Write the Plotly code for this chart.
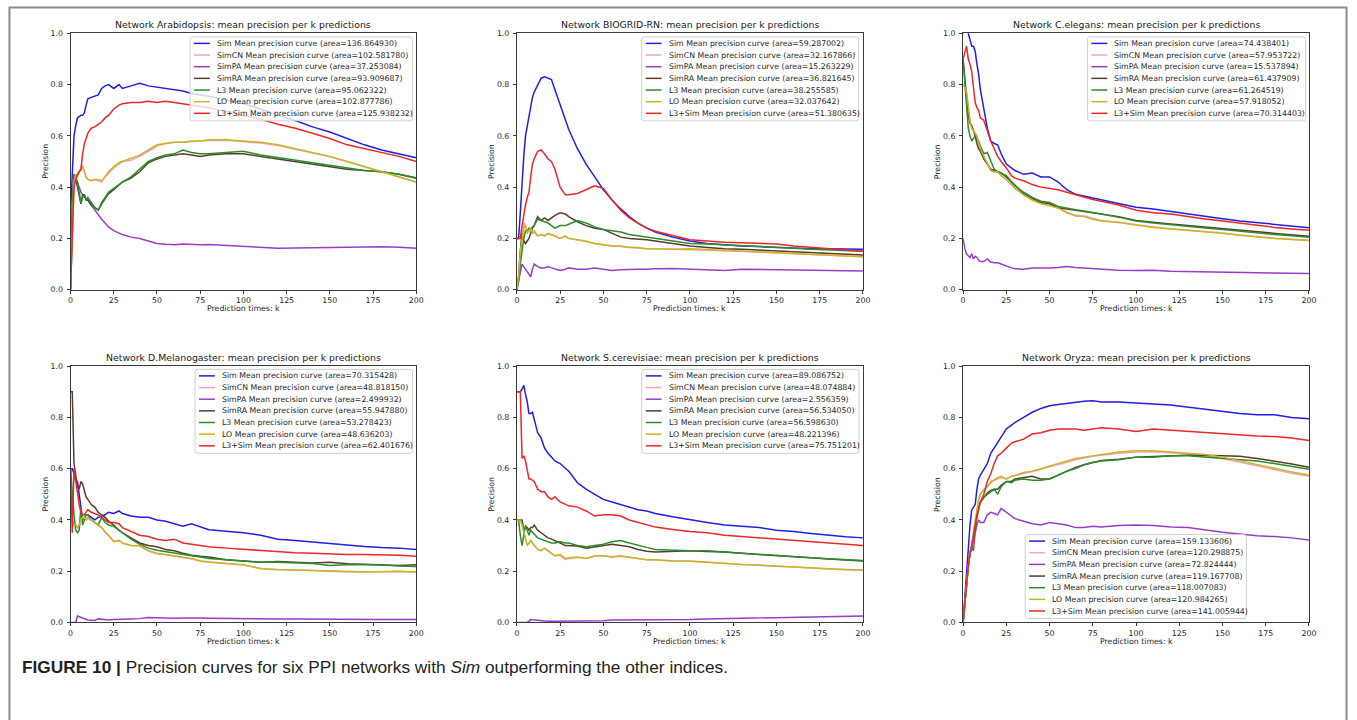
import plotly.graph_objects as go

W, H = 1357, 720

# ---------------- data ----------------
K = [0, 1, 2, 3, 4, 5, 6, 7, 8, 9, 10, 12, 14, 16, 18, 20, 22, 25, 28, 30,
     35, 40, 45, 50, 55, 60, 65, 70, 75, 80, 90, 100, 110, 120, 130, 140,
     150, 160, 170, 180, 190, 200]

NETWORKS = ["Arabidopsis", "BIOGRID-RN", "C.elegans", "D.Melanogaster", "S.cerevisiae", "Oryza"]
METHODS = ["Sim", "SimCN", "SimPA", "SimRA", "L3", "LO", "L3+Sim"]
X_TICKS = [0, 25, 50, 75, 100, 125, 150, 175, 200]
Y_TICKS = [0.0, 0.2, 0.4, 0.6, 0.8, 1.0]

AREA_ARA = ["136.864930", "102.581780", "37.253084", "93.909687", "95.062322", "102.877786", "125.938232"]
AREA_BIO = ["59.287002", "32.167866", "15.263229", "36.821645", "38.255585", "32.037642", "51.380635"]
AREA_CEL = ["74.438401", "57.953722", "15.537894", "61.437909", "61.264519", "57.918052", "70.314403"]
AREA_DME = ["70.315428", "48.818150", "2.499932", "55.947880", "53.278423", "48.636203", "62.401676"]
AREA_SCE = ["89.086752", "48.074884", "2.556359", "56.534050", "56.598630", "48.221396", "75.751201"]
AREA_ORY = ["159.133606", "120.298875", "72.824444", "119.167708", "118.007083", "120.984265", "141.005944"]

# Arabidopsis
ARA_SIM = [0.30,0.45,0.60,0.64,0.67,0.675,0.68,0.68,0.69,0.72,0.745, 0.75,0.755,0.76,0.785,0.795,0.80, 0.785,0.80,0.785, 0.795,0.805,0.795,0.79,0.785,0.78,0.775,0.765,0.76,0.755, 0.74,0.725,0.705,0.68,0.66,0.635,0.615,0.59,0.565,0.545,0.53,0.515]
ARA_SIMCN = [0.0,0.25,0.42,0.45,0.44,0.46,0.465,0.48,0.455,0.44,0.43, 0.425,0.43,0.425,0.42,0.44,0.455, 0.475,0.49,0.50, 0.505,0.52,0.54,0.56,0.57,0.575,0.575,0.578,0.58,0.582, 0.583,0.578,0.572,0.562,0.548,0.533,0.518,0.50,0.48,0.46,0.44,0.42]
ARA_SIMPA = [0.0,0.30,0.45,0.43,0.42,0.40,0.38,0.37,0.365,0.355,0.35, 0.33,0.31,0.29,0.275,0.26,0.245, 0.23,0.22,0.215, 0.205,0.20,0.19,0.18,0.177,0.175,0.178,0.176,0.175,0.176, 0.173,0.17,0.165,0.162,0.163,0.164,0.165,0.164,0.165,0.167,0.166,0.162]
ARA_SIMRA = [0.0,0.30,0.44,0.43,0.40,0.36,0.335,0.37,0.37,0.35,0.35, 0.33,0.32,0.31,0.335,0.355,0.375, 0.39,0.41,0.42, 0.435,0.46,0.495,0.51,0.52,0.525,0.53,0.525,0.52,0.525, 0.53,0.53,0.52,0.51,0.50,0.49,0.48,0.47,0.465,0.46,0.45,0.435]
ARA_L3 = [0.0,0.30,0.45,0.44,0.42,0.38,0.34,0.36,0.37,0.35,0.36, 0.34,0.32,0.31,0.34,0.36,0.38, 0.395,0.41,0.42, 0.44,0.47,0.50,0.515,0.525,0.53,0.545,0.535,0.53,0.53, 0.535,0.54,0.525,0.515,0.505,0.495,0.485,0.475,0.465,0.46,0.45,0.437]
ARA_LO = [0.0,0.25,0.42,0.45,0.44,0.46,0.47,0.485,0.46,0.44,0.43, 0.425,0.43,0.43,0.425,0.44,0.46, 0.48,0.495,0.50, 0.51,0.525,0.545,0.565,0.57,0.575,0.575,0.58,0.58,0.585, 0.585,0.58,0.575,0.565,0.55,0.535,0.52,0.50,0.48,0.46,0.44,0.42]
ARA_L3SIM = [0.0,0.25,0.40,0.43,0.45,0.46,0.47,0.53,0.57,0.59,0.61, 0.63,0.635,0.645,0.655,0.67,0.68, 0.705,0.72,0.725, 0.73,0.73,0.735,0.73,0.735,0.73,0.725,0.72,0.715,0.71, 0.695,0.68,0.665,0.645,0.63,0.61,0.59,0.565,0.55,0.535,0.52,0.50]

# BIOGRID-RN
BIO_SIM = [0.2,0.2,0.3,0.42,0.52,0.6,0.64,0.68,0.72,0.75,0.77, 0.80,0.825,0.83,0.825,0.82,0.78, 0.72,0.66,0.625, 0.55,0.49,0.44,0.39,0.35,0.315,0.285,0.26,0.24,0.225, 0.205,0.19,0.18,0.175,0.17,0.168,0.165,0.163,0.16,0.16,0.158,0.158]
BIO_SIMCN = [0.0,0.05,0.15,0.20,0.26,0.25,0.22,0.23,0.24,0.22,0.225, 0.21,0.215,0.21,0.218,0.213,0.21, 0.20,0.208,0.20, 0.195,0.188,0.18,0.175,0.17,0.168,0.165,0.163,0.16,0.16, 0.158,0.158,0.156,0.152,0.15,0.147,0.144,0.14,0.137,0.134,0.131,0.128]
BIO_SIMPA = [0.0,0.03,0.07,0.10,0.09,0.08,0.07,0.06,0.05,0.08,0.10, 0.09,0.085,0.085,0.09,0.085,0.08, 0.075,0.08,0.085, 0.08,0.08,0.085,0.08,0.075,0.078,0.08,0.08,0.08,0.082, 0.083,0.08,0.078,0.075,0.08,0.079,0.078,0.078,0.077,0.077,0.075,0.073]
BIO_SIMRA = [0.0,0.05,0.15,0.22,0.19,0.18,0.19,0.20,0.22,0.24,0.25, 0.285,0.27,0.28,0.27,0.28,0.29, 0.30,0.295,0.285, 0.265,0.25,0.24,0.235,0.22,0.205,0.20,0.198,0.195,0.19, 0.18,0.17,0.165,0.16,0.158,0.155,0.152,0.148,0.145,0.142,0.138,0.135]
BIO_L3 = [0.0,0.03,0.10,0.16,0.20,0.23,0.23,0.24,0.235,0.245,0.25, 0.275,0.27,0.265,0.26,0.25,0.24, 0.25,0.25,0.255, 0.27,0.26,0.245,0.235,0.23,0.225,0.215,0.21,0.205,0.20, 0.19,0.18,0.178,0.175,0.172,0.17,0.165,0.162,0.158,0.155,0.152,0.15]
BIO_LO = [0.0,0.05,0.15,0.20,0.24,0.25,0.22,0.23,0.24,0.22,0.23, 0.21,0.215,0.21,0.22,0.215,0.21, 0.20,0.21,0.20, 0.195,0.19,0.18,0.175,0.17,0.17,0.165,0.165,0.16,0.16, 0.158,0.16,0.157,0.153,0.15,0.148,0.145,0.14,0.138,0.135,0.132,0.128]
BIO_L3SIM = [0.2,0.2,0.2,0.25,0.30,0.33,0.36,0.38,0.44,0.49,0.51, 0.54,0.545,0.53,0.51,0.50,0.47, 0.40,0.37,0.37, 0.375,0.39,0.405,0.395,0.35,0.31,0.28,0.26,0.24,0.228, 0.21,0.195,0.19,0.185,0.183,0.18,0.178,0.17,0.165,0.16,0.155,0.15]

# C.elegans
CEL_SIM = [1.0,1.02,1.03,1.0,0.97,0.95,0.95,0.93,0.88,0.84,0.78, 0.70,0.63,0.58,0.57,0.565,0.53, 0.49,0.475,0.465, 0.45,0.455,0.44,0.44,0.42,0.39,0.372,0.365,0.357,0.35, 0.338,0.322,0.315,0.305,0.295,0.286,0.277,0.268,0.262,0.255,0.248,0.242]
CEL_SIMCN = [0.80,0.79,0.77,0.70,0.66,0.63,0.62,0.61,0.60,0.57,0.55, 0.52,0.49,0.465,0.46,0.458,0.445, 0.43,0.41,0.395, 0.37,0.35,0.337,0.33,0.32,0.302,0.29,0.287,0.277,0.27, 0.263,0.253,0.245,0.238,0.233,0.227,0.221,0.213,0.206,0.201,0.197,0.193]
CEL_SIMPA = [0.20,0.16,0.14,0.13,0.125,0.14,0.12,0.13,0.125,0.115,0.11, 0.11,0.12,0.108,0.105,0.105,0.10, 0.09,0.085,0.082, 0.08,0.085,0.084,0.085,0.087,0.09,0.087,0.085,0.082,0.08, 0.076,0.075,0.076,0.072,0.071,0.07,0.07,0.068,0.066,0.065,0.064,0.063]
CEL_SIMRA = [0.90,0.82,0.74,0.68,0.65,0.64,0.62,0.60,0.57,0.55,0.54, 0.51,0.49,0.47,0.465,0.46,0.455, 0.44,0.42,0.405, 0.375,0.355,0.34,0.335,0.32,0.315,0.31,0.305,0.30,0.295, 0.285,0.27,0.262,0.256,0.25,0.244,0.238,0.232,0.226,0.219,0.214,0.208]
CEL_L3 = [0.90,0.80,0.70,0.63,0.60,0.58,0.59,0.60,0.59,0.58,0.56, 0.53,0.535,0.50,0.47,0.46,0.455, 0.445,0.42,0.405, 0.38,0.36,0.345,0.34,0.325,0.317,0.312,0.307,0.30,0.295, 0.283,0.268,0.26,0.253,0.247,0.241,0.235,0.228,0.221,0.215,0.21,0.205]
CEL_LO = [0.80,0.79,0.77,0.70,0.66,0.63,0.62,0.61,0.60,0.57,0.55, 0.52,0.49,0.465,0.46,0.46,0.445, 0.43,0.41,0.395, 0.37,0.35,0.335,0.328,0.318,0.30,0.287,0.285,0.275,0.268, 0.262,0.252,0.243,0.237,0.232,0.226,0.22,0.212,0.205,0.20,0.196,0.192]
CEL_L3SIM = [0.90,0.93,0.95,0.90,0.88,0.85,0.80,0.73,0.71,0.70,0.67, 0.66,0.62,0.58,0.55,0.52,0.50, 0.475,0.445,0.435, 0.425,0.41,0.40,0.395,0.39,0.38,0.37,0.36,0.352,0.345, 0.33,0.31,0.30,0.295,0.285,0.276,0.268,0.259,0.25,0.243,0.237,0.232]

# D.Melanogaster
DME_SIM = [0.6,0.6,0.58,0.55,0.55,0.5,0.45,0.40,0.41,0.42,0.42, 0.41,0.40,0.41,0.415,0.42,0.43, 0.425,0.435,0.425, 0.415,0.41,0.41,0.40,0.395,0.385,0.375,0.385,0.372,0.362, 0.356,0.35,0.34,0.325,0.32,0.314,0.306,0.30,0.296,0.292,0.29,0.285]
DME_SIMCN = [0.4,0.4,0.38,0.38,0.37,0.38,0.40,0.405,0.41,0.40,0.405, 0.40,0.39,0.38,0.37,0.352,0.34, 0.318,0.32,0.31, 0.30,0.298,0.28,0.27,0.265,0.26,0.254,0.248,0.24,0.236, 0.23,0.224,0.211,0.207,0.205,0.203,0.201,0.199,0.198,0.198,0.199,0.197]
DME_SIMPA = [0.0,0.0,0.0,0.0,0.025,0.022,0.02,0.016,0.014,0.012,0.01, 0.009,0.008,0.014,0.012,0.01,0.01, 0.012,0.012,0.013, 0.014,0.015,0.019,0.018,0.016,0.016,0.017,0.018,0.017,0.016, 0.015,0.014,0.013,0.014,0.014,0.013,0.013,0.013,0.012,0.012,0.012,0.012]
DME_SIMRA = [0.9,0.9,0.62,0.57,0.53,0.52,0.55,0.54,0.51,0.49,0.48, 0.46,0.45,0.43,0.42,0.41,0.395, 0.38,0.36,0.35, 0.33,0.31,0.30,0.295,0.285,0.28,0.27,0.262,0.258,0.255, 0.245,0.24,0.235,0.238,0.235,0.232,0.235,0.229,0.227,0.225,0.222,0.225]
DME_L3 = [0.6,0.5,0.42,0.36,0.35,0.36,0.45,0.38,0.40,0.42,0.42, 0.40,0.39,0.38,0.41,0.39,0.38, 0.375,0.36,0.35, 0.325,0.305,0.29,0.282,0.276,0.27,0.265,0.26,0.255,0.25, 0.245,0.24,0.236,0.235,0.232,0.23,0.222,0.225,0.225,0.224,0.22,0.218]
DME_LO = [0.4,0.4,0.38,0.38,0.37,0.38,0.40,0.41,0.41,0.40,0.41, 0.40,0.39,0.38,0.37,0.355,0.34, 0.315,0.32,0.31, 0.30,0.30,0.28,0.268,0.265,0.26,0.255,0.25,0.24,0.235, 0.23,0.225,0.21,0.206,0.205,0.202,0.20,0.198,0.197,0.198,0.20,0.197]
DME_L3SIM = [0.6,0.35,0.6,0.55,0.50,0.46,0.43,0.42,0.42,0.43,0.44, 0.43,0.425,0.42,0.41,0.40,0.39, 0.39,0.385,0.37, 0.355,0.34,0.335,0.325,0.32,0.325,0.31,0.305,0.30,0.295, 0.29,0.285,0.28,0.275,0.272,0.27,0.267,0.265,0.265,0.264,0.262,0.258]

# S.cerevisiae
SCE_SIM = [0.9,0.9,0.9,0.91,0.925,0.89,0.86,0.815,0.815,0.82,0.79, 0.74,0.72,0.68,0.66,0.645,0.63, 0.62,0.60,0.59, 0.545,0.52,0.50,0.48,0.47,0.46,0.448,0.44,0.435,0.425, 0.412,0.40,0.39,0.38,0.375,0.37,0.36,0.355,0.347,0.34,0.334,0.33]
SCE_SIMCN = [0.4,0.4,0.4,0.38,0.35,0.33,0.30,0.31,0.32,0.31,0.30, 0.285,0.28,0.29,0.278,0.268,0.26, 0.262,0.245,0.25, 0.253,0.25,0.258,0.26,0.255,0.258,0.254,0.25,0.245,0.244, 0.24,0.239,0.234,0.229,0.226,0.223,0.219,0.215,0.212,0.209,0.206,0.204]
SCE_SIMPA = [0.0,0.0,0.0,0.0,0.0,0.0,0.0,0.005,0.012,0.011,0.01, 0.008,0.007,0.006,0.005,0.005,0.005, 0.006,0.006,0.006, 0.006,0.006,0.006,0.007,0.01,0.01,0.01,0.01,0.011,0.012, 0.012,0.012,0.014,0.015,0.017,0.018,0.02,0.021,0.022,0.023,0.024,0.025]
SCE_SIMRA = [0.4,0.4,0.4,0.4,0.36,0.37,0.37,0.36,0.37,0.37,0.38, 0.36,0.35,0.34,0.33,0.325,0.32, 0.31,0.30,0.30, 0.298,0.29,0.295,0.30,0.305,0.30,0.295,0.285,0.278,0.275, 0.277,0.28,0.277,0.275,0.27,0.265,0.26,0.256,0.252,0.248,0.244,0.24]
SCE_L3 = [0.4,0.4,0.34,0.30,0.34,0.38,0.36,0.34,0.36,0.35,0.345, 0.33,0.325,0.32,0.315,0.31,0.31, 0.315,0.31,0.31, 0.30,0.295,0.30,0.305,0.315,0.32,0.31,0.30,0.293,0.285, 0.282,0.28,0.28,0.276,0.27,0.265,0.26,0.257,0.252,0.249,0.245,0.242]
SCE_LO = [0.4,0.4,0.4,0.38,0.35,0.33,0.30,0.31,0.32,0.31,0.30, 0.285,0.28,0.29,0.28,0.27,0.26, 0.265,0.25,0.252, 0.255,0.25,0.26,0.26,0.255,0.26,0.255,0.25,0.245,0.245, 0.24,0.24,0.235,0.23,0.226,0.224,0.22,0.216,0.212,0.21,0.207,0.205]
SCE_L3SIM = [0.9,0.9,0.9,0.64,0.65,0.63,0.60,0.56,0.56,0.555,0.55, 0.52,0.51,0.51,0.49,0.48,0.49, 0.47,0.46,0.455, 0.45,0.435,0.415,0.42,0.42,0.415,0.40,0.39,0.38,0.372, 0.363,0.355,0.35,0.34,0.335,0.33,0.325,0.32,0.315,0.31,0.305,0.30]

# Oryza
ORY_SIM = [0.0,0.1,0.2,0.3,0.38,0.44,0.45,0.46,0.52,0.56,0.575, 0.60,0.62,0.66,0.68,0.70,0.725, 0.755,0.77,0.78, 0.80,0.82,0.835,0.845,0.85,0.855,0.86,0.863,0.865,0.86, 0.86,0.855,0.852,0.848,0.84,0.833,0.825,0.815,0.81,0.81,0.80,0.795]
ORY_SIMCN = [0.0,0.08,0.15,0.22,0.27,0.30,0.35,0.40,0.45,0.48,0.50, 0.515,0.53,0.545,0.555,0.56,0.565, 0.56,0.57,0.572, 0.58,0.588,0.598,0.607,0.615,0.625,0.635,0.642,0.648,0.652, 0.66,0.665,0.666,0.662,0.657,0.65,0.64,0.625,0.61,0.595,0.582,0.57]
ORY_SIMPA = [0.0,0.08,0.15,0.22,0.27,0.29,0.28,0.35,0.38,0.40,0.39, 0.39,0.42,0.43,0.425,0.42,0.445, 0.43,0.415,0.405, 0.395,0.385,0.38,0.39,0.385,0.38,0.37,0.37,0.375,0.372, 0.378,0.38,0.378,0.372,0.37,0.36,0.352,0.345,0.338,0.335,0.33,0.322]
ORY_SIMRA = [0.0,0.08,0.15,0.22,0.27,0.29,0.33,0.37,0.42,0.45,0.47, 0.49,0.505,0.515,0.52,0.52,0.535, 0.55,0.55,0.56, 0.565,0.57,0.56,0.56,0.575,0.59,0.605,0.615,0.625,0.632, 0.637,0.645,0.647,0.65,0.652,0.652,0.65,0.648,0.64,0.63,0.618,0.605]
ORY_L3 = [0.0,0.08,0.15,0.22,0.27,0.29,0.33,0.37,0.42,0.45,0.47, 0.49,0.50,0.51,0.52,0.50,0.53, 0.55,0.545,0.555, 0.56,0.555,0.555,0.56,0.575,0.59,0.60,0.615,0.625,0.63, 0.635,0.645,0.645,0.65,0.65,0.645,0.64,0.635,0.63,0.62,0.61,0.598]
ORY_LO = [0.0,0.08,0.15,0.22,0.27,0.30,0.35,0.40,0.45,0.48,0.50, 0.52,0.53,0.55,0.555,0.565,0.57, 0.56,0.57,0.575, 0.585,0.59,0.60,0.61,0.62,0.63,0.64,0.645,0.65,0.655, 0.665,0.67,0.67,0.665,0.66,0.655,0.645,0.63,0.615,0.60,0.587,0.575]
ORY_L3SIM = [0.0,0.08,0.15,0.22,0.27,0.30,0.34,0.38,0.42,0.44,0.47, 0.50,0.55,0.58,0.62,0.65,0.66, 0.68,0.70,0.705, 0.715,0.735,0.74,0.75,0.755,0.755,0.755,0.75,0.755,0.76, 0.755,0.745,0.755,0.75,0.745,0.74,0.735,0.73,0.727,0.725,0.72,0.71]

PANEL_SERIES = [
    [ARA_SIM, ARA_SIMCN, ARA_SIMPA, ARA_SIMRA, ARA_L3, ARA_LO, ARA_L3SIM],
    [BIO_SIM, BIO_SIMCN, BIO_SIMPA, BIO_SIMRA, BIO_L3, BIO_LO, BIO_L3SIM],
    [CEL_SIM, CEL_SIMCN, CEL_SIMPA, CEL_SIMRA, CEL_L3, CEL_LO, CEL_L3SIM],
    [DME_SIM, DME_SIMCN, DME_SIMPA, DME_SIMRA, DME_L3, DME_LO, DME_L3SIM],
    [SCE_SIM, SCE_SIMCN, SCE_SIMPA, SCE_SIMRA, SCE_L3, SCE_LO, SCE_L3SIM],
    [ORY_SIM, ORY_SIMCN, ORY_SIMPA, ORY_SIMRA, ORY_L3, ORY_LO, ORY_L3SIM],
]
PANEL_AREAS = [AREA_ARA, AREA_BIO, AREA_CEL, AREA_DME, AREA_SCE, AREA_ORY]

# ---------------- style / layout ----------------
COLORS = ["#1f1fe8", "#f4a3c0", "#9a3cc8", "#5a3b2c", "#2a8f2a", "#c9b526", "#ee2626"]
FONT = "DejaVu Sans"
COL_X = [(69.0, 417.0), (518.3, 866.7), (967.5, 1315.7)]
ROW_Y = [(29.7, 289.3), (366.7, 626.3)]
# legend boxes: left, top, right (px)
LEG_BOX = [(189.3, 33.3, 413.3), (644.0, 33.3, 862.3), (1092.7, 33.3, 1312.3),
           (194.3, 370.0, 413.3), (644.0, 370.0, 862.7), (1030.0, 537.3, 1252.7)]
LEG_H = 85.0
ROW_STEP = 11.8


def fx(p):
    return p / W


def fy(p):
    return 1 - p / H


fig = go.Figure()
layout = dict(
    width=W, height=H, autosize=False,
    margin=dict(l=0, r=0, t=0, b=0),
    paper_bgcolor="white", plot_bgcolor="white",
    showlegend=False,
)
shapes = []
annotations = []

for i, name in enumerate(NETWORKS):
    r, c = divmod(i, 3)
    x0, x1 = COL_X[c]
    y0, y1 = ROW_Y[r]
    sfx = "" if i == 0 else str(i + 1)
    xa, ya = "x" + sfx, "y" + sfx
    axis_common = dict(
        showline=True, linecolor="#3a3a3a", linewidth=1, mirror=True,
        ticks="outside", ticklen=3, tickwidth=1, tickcolor="#3a3a3a",
        showgrid=False, zeroline=False,
        tickfont=dict(family=FONT, size=7.8, color="#262626"),
    )
    layout["xaxis" + sfx] = dict(domain=[fx(x0), fx(x1)], range=[0, 200], tickvals=X_TICKS,
                                 anchor=ya, **axis_common)
    layout["yaxis" + sfx] = dict(domain=[fy(y1), fy(y0)], range=[0, 1], tickvals=Y_TICKS,
                                 tickformat=".1f", anchor=xa, ticklabelstandoff=2, **axis_common)

    for j, m in enumerate(METHODS):
        fig.add_trace(go.Scatter(
            x=K, y=PANEL_SERIES[i][j], mode="lines", xaxis=xa, yaxis=ya,
            line=dict(color=COLORS[j], width=1.5), name=m, hoverinfo="skip",
        ))

    cx = (x0 + x1) / 2
    # subplot title
    annotations.append(dict(text=f"Network {name}: mean precision per k predictions",
                            x=fx(cx), y=fy(y0 - 8.5), xref="paper", yref="paper",
                            xanchor="center", yanchor="middle", showarrow=False,
                            font=dict(family=FONT, size=9.35, color="#1a1a1a")))
    # axis titles
    annotations.append(dict(text="Prediction times: k", x=fx(cx), y=fy(y1 + 19.5),
                            xref="paper", yref="paper", xanchor="center", yanchor="middle",
                            showarrow=False, font=dict(family=FONT, size=7.8, color="#262626")))
    annotations.append(dict(text="Precision", x=fx(x0 - 25.5), y=fy((y0 + y1) / 2),
                            xref="paper", yref="paper", xanchor="center", yanchor="middle",
                            textangle=-90, showarrow=False,
                            font=dict(family=FONT, size=7.8, color="#262626")))

    # legend box (rounded)
    L, T, R = LEG_BOX[i]
    B = T + LEG_H
    rad = 2.5
    path = (f"M {fx(L + rad)} {fy(T)} L {fx(R - rad)} {fy(T)} Q {fx(R)} {fy(T)} {fx(R)} {fy(T + rad)} "
            f"L {fx(R)} {fy(B - rad)} Q {fx(R)} {fy(B)} {fx(R - rad)} {fy(B)} "
            f"L {fx(L + rad)} {fy(B)} Q {fx(L)} {fy(B)} {fx(L)} {fy(B - rad)} "
            f"L {fx(L)} {fy(T + rad)} Q {fx(L)} {fy(T)} {fx(L + rad)} {fy(T)} Z")
    shapes.append(dict(type="path", path=path, xref="paper", yref="paper",
                       fillcolor="rgba(255,255,255,0.8)", line=dict(color="#d0d0d0", width=1),
                       layer="above"))
    for j, m in enumerate(METHODS):
        yc = T + 6.6 + ROW_STEP * j
        shapes.append(dict(type="line", xref="paper", yref="paper",
                           x0=fx(L + 4), x1=fx(L + 20), y0=fy(yc), y1=fy(yc),
                           line=dict(color=COLORS[j], width=1.5), layer="above"))
        annotations.append(dict(text=f"{m} Mean precision curve (area={PANEL_AREAS[i][j]})",
                                x=fx(L + 25), y=fy(yc), xref="paper", yref="paper",
                                xanchor="left", yanchor="middle", showarrow=False,
                                font=dict(family=FONT, size=7.8, color="#262626")))

# outer frame
shapes.append(dict(type="path", xref="paper", yref="paper",
                   path=f"M {fx(7.5)} -0.05 L {fx(7.5)} {fy(3.5)} L {fx(1353.5)} {fy(3.5)} L {fx(1353.5)} -0.05",
                   line=dict(color="#8a8a8a", width=2), layer="above"))

# caption
annotations.append(dict(
    text="<b>FIGURE 10 |</b> Precision curves for six PPI networks with <i>Sim</i> outperforming the other indices.",
    x=fx(18), y=fy(671), xref="paper", yref="paper", xanchor="left", yanchor="middle",
    showarrow=False, font=dict(family="Liberation Sans Narrow, Liberation Sans, Arial", size=17.3, color="#231f20")))

layout["shapes"] = shapes
layout["annotations"] = annotations
fig.update_layout(**layout)
fig.write_html("out.html")
